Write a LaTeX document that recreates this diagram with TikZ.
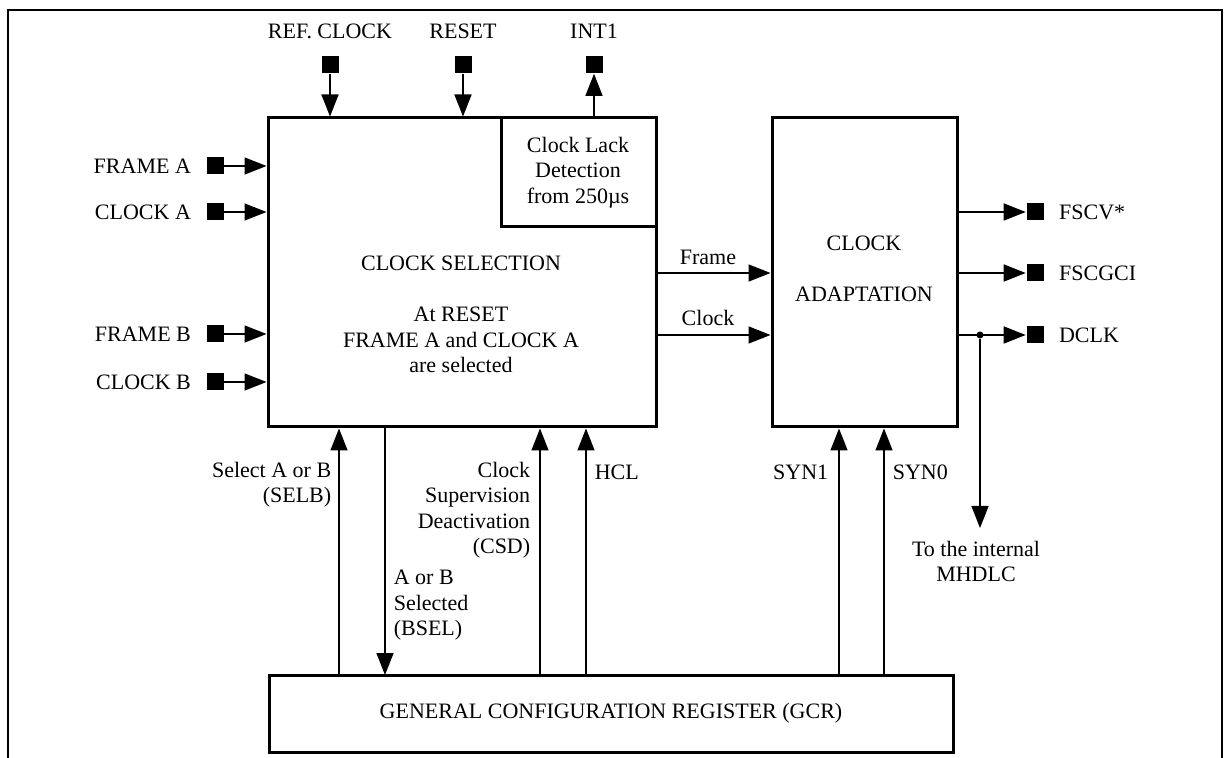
\documentclass[tikz,border=0pt]{standalone}
\usepackage{fontspec}
\setmainfont{Liberation Serif}
\usetikzlibrary{positioning,arrows.meta}

\begin{document}
\begin{tikzpicture}[x=0.5pt, y=-0.5pt, line width=0.8pt,
   font=\fontsize{11}{12.75}\selectfont,
   blk/.style={draw, line width=1.5pt, fill=white, inner sep=0pt, align=center},
   pin/.style={fill, minimum size=8.5pt, inner sep=0pt},
   sig/.style={-{Triangle[length=11pt,width=8.5pt]}},
   lbl/.style={inner sep=0pt, align=center}]
  \useasboundingbox (0,0) rectangle (1231,758);
  \draw[line width=1.3pt] (8,758) -- (8,10) -- (1222,10) -- (1222,758);
  % blocks
  \node[blk, minimum width=194pt, minimum height=154.5pt] (main) at (462,272.5) {};
  \node[blk, minimum width=77.5pt, minimum height=54.5pt] (lack) at (578.5,172.5) {};
  \node[blk, minimum width=92.5pt, minimum height=154.5pt] (adapt) at (864.5,272.5) {};
  \node[blk, minimum width=342pt, minimum height=38.5pt] (gcr) at (611,713.5) {GENERAL CONFIGURATION REGISTER (GCR)};
  \node[lbl] at (461,314.5) {CLOCK SELECTION\\[12.75pt]At RESET\\FRAME A and CLOCK A\\are selected};
  \node[lbl] at (578,172.5) {Clock Lack\\Detection\\from 250µs};
  \node[lbl] at (864,269) {CLOCK\\[12.75pt]ADAPTATION};
  % top pins
  \node[pin] (refpin) at (330,64.5) {}; \node[lbl, above=8pt of refpin] {REF. CLOCK};
  \node[pin] (rstpin) at (463,64.5) {}; \node[lbl, above=8pt of rstpin] {RESET};
  \node[pin] (intpin) at (594,64.5) {}; \node[lbl, above=8pt of intpin] {INT1};
  \draw[sig] (refpin) -- (refpin |- main.north);
  \draw[sig] (rstpin) -- (rstpin |- main.north);
  \draw[sig, line width=0.6pt] (intpin |- lack.north) -- (intpin);
  % left pins
  \node[pin] (fapin) at (215,166) {}; \node[lbl, left=7pt of fapin] {FRAME A};
  \node[pin] (capin) at (215,212) {}; \node[lbl, left=7pt of capin] {CLOCK A};
  \node[pin] (fbpin) at (215,334) {}; \node[lbl, left=7pt of fbpin] {FRAME B};
  \node[pin] (cbpin) at (215,382) {}; \node[lbl, left=7pt of cbpin] {CLOCK B};
  \foreach \p in {fapin,capin,fbpin,cbpin}
    \draw[sig] (\p) -- (\p -| main.west);
  % between blocks
  \coordinate (frm) at (656,273); \coordinate (clk) at (656,335);
  \draw[sig] (frm) -- (frm -| adapt.west);
  \draw[sig] (clk) -- (clk -| adapt.west);
  \node[lbl] at (708,257) {Frame};
  \node[lbl] at (708,318) {Clock};
  % right pins
  \node[pin] (cvpin) at (1035,212) {}; \node[lbl, right=7pt of cvpin] {FSCV*};
  \node[pin] (gcpin) at (1035,273) {}; \node[lbl, right=7pt of gcpin] {FSCGCI};
  \node[pin] (dcpin) at (1035,335) {}; \node[lbl, right=7pt of dcpin] {DCLK};
  \foreach \p in {cvpin,gcpin,dcpin}
    \draw[sig] (\p -| adapt.east) -- (\p);
  \node[circle, fill, inner sep=0pt, minimum size=3.5pt] (tap) at (980,335) {};
  \coordinate (mh) at (980,528);
  \draw[sig] (tap) -- (mh);
  \node[lbl, below=6pt of mh, xshift=-2pt] {To the internal\\MHDLC};
  % register lines
  \coordinate (selb) at (339,675); \coordinate (bsel) at (385,675);
  \coordinate (csd) at (540,675);  \coordinate (hcl) at (586,675);
  \coordinate (syn1) at (839,675); \coordinate (syn0) at (884,675);
  \draw[sig] (selb) -- (selb |- main.south);
  \draw[sig] (bsel |- main.south) -- (bsel);
  \draw[sig] (csd) -- (csd |- main.south);
  \draw[sig] (hcl) -- (hcl |- main.south);
  \draw[sig] (syn1) -- (syn1 |- adapt.south);
  \draw[sig] (syn0) -- (syn0 |- adapt.south);
  \node[lbl, align=right, anchor=east] at (332,484.5) {Select A or B\\(SELB)};
  \node[lbl, align=left, anchor=west] at (393,605.5) {A or B\\Selected\\(BSEL)};
  \node[lbl, align=right, anchor=east] at (531,510) {Clock\\Supervision\\Deactivation\\(CSD)};
  \node[lbl, anchor=west] at (594,472) {HCL};
  \node[lbl, anchor=east] at (829,472) {SYN1};
  \node[lbl, anchor=west] at (892,472) {SYN0};
\end{tikzpicture}
\end{document}
